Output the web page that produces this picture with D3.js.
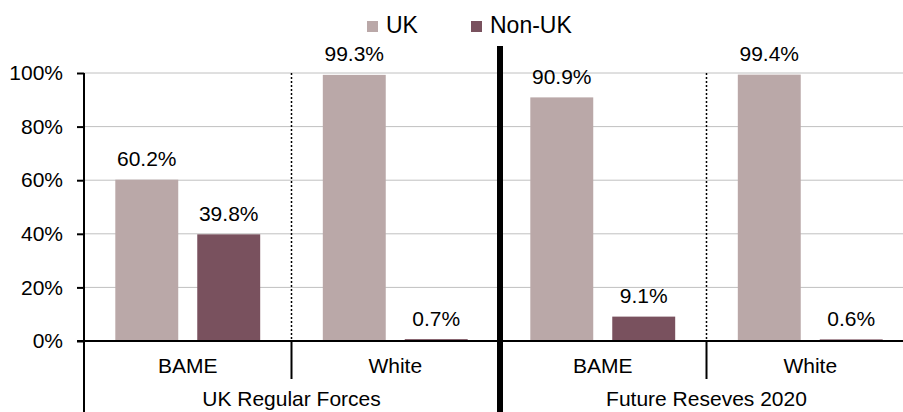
<!DOCTYPE html>
<html>
<head>
<meta charset="utf-8">
<script src="https://cdn.jsdelivr.net/npm/d3@7"></script>
<style>
  body { margin: 0; background: #fff; }
  svg { display: block; font-family: "Liberation Sans", Arial, sans-serif; }
</style>
</head>
<body>
<div id="result"></div>
<script>
const groups = ['UK Regular Forces', 'Future Reseves 2020'];
const ethnicities = ['BAME', 'White'];
const series = ['UK', 'Non-UK'];
const ukValues = [60.2, 99.3, 90.9, 99.4];
const nonUkValues = [39.8, 0.7, 9.1, 0.6];
const yTicks = [0, 20, 40, 60, 80, 100];
const colors = ['#baa8a8', '#79515e'];

const width = 903, height = 412;
const margin = { top: 73, left: 84, bottom: 71 };
const plotRight = 914; // last category runs a little past the edge

// one row per category, built from the arrays above
const cats = [];
groups.forEach(function(g, gi) {
  ethnicities.forEach(function(e, ei) {
    const i = gi * ethnicities.length + ei;
    cats.push({ key: g + '|' + e, group: g, eth: e, values: [ukValues[i], nonUkValues[i]] });
  });
});

const svg = d3.select('#result').append('svg')
  .attr('width', width)
  .attr('height', height);

const x0 = d3.scaleBand().domain(cats.map(d => d.key)).range([margin.left, plotRight]).padding(0);
const x1 = d3.scaleBand().domain(series).range([0, x0.bandwidth()]).paddingInner(0.232).paddingOuter(0.382);
const y = d3.scaleLinear().domain([0, 100]).range([height - margin.bottom, margin.top]);

// gridlines
svg.append('g').selectAll('line')
  .data(yTicks.filter(t => t > 0))
  .enter().append('line')
  .attr('x1', margin.left).attr('x2', width)
  .attr('y1', d => y(d)).attr('y2', d => y(d))
  .attr('stroke', '#c0c0c0').attr('stroke-width', 1);

// dotted separators between ethnicities
const dotted = [cats[1].key, cats[3].key];
svg.append('g').selectAll('line')
  .data(dotted)
  .enter().append('line')
  .attr('x1', d => x0(d)).attr('x2', d => x0(d))
  .attr('y1', y(100)).attr('y2', y(0))
  .attr('stroke', '#000').attr('stroke-width', 1.5)
  .attr('stroke-dasharray', '2,2');

// bars
const catG = svg.append('g').selectAll('g')
  .data(cats)
  .enter().append('g')
  .attr('transform', d => `translate(${x0(d.key)},0)`);

catG.selectAll('rect')
  .data(d => d.values.map((v, i) => ({ s: series[i], v: v, i: i })))
  .enter().append('rect')
  .attr('x', d => x1(d.s))
  .attr('width', x1.bandwidth())
  .attr('y', d => y(d.v))
  .attr('height', d => y(0) - y(d.v))
  .attr('fill', d => colors[d.i]);

catG.selectAll('text')
  .data(d => d.values.map((v, i) => ({ s: series[i], v: v })))
  .enter().append('text')
  .attr('x', d => x1(d.s) + x1.bandwidth() / 2)
  .attr('y', d => y(d.v) - 13.5)
  .attr('text-anchor', 'middle')
  .attr('font-size', 21)
  .attr('fill', '#000')
  .text(d => d.v.toFixed(1) + '%');

// y axis
const yAxis = svg.append('g')
  .attr('transform', `translate(${margin.left},0)`)
  .call(d3.axisLeft(y).tickValues(yTicks).tickSize(7).tickPadding(14).tickFormat(d => d + '%'));
yAxis.select('.domain').remove();
yAxis.selectAll('.tick line').attr('stroke', '#000').attr('stroke-width', 2);
yAxis.selectAll('.tick text').attr('font-size', 21).attr('fill', '#000')
  .attr('font-family', '"Liberation Sans", Arial, sans-serif');

svg.append('line')
  .attr('x1', margin.left).attr('x2', margin.left)
  .attr('y1', y(100)).attr('y2', height)
  .attr('stroke', '#000').attr('stroke-width', 2);

// x axis line
svg.append('line')
  .attr('x1', margin.left - 7).attr('x2', width)
  .attr('y1', y(0)).attr('y2', y(0))
  .attr('stroke', '#000').attr('stroke-width', 2);

// category labels
const xAxis = svg.append('g')
  .attr('transform', `translate(0,${y(0)})`)
  .call(d3.axisBottom(x0).tickSize(0).tickPadding(17).tickFormat(k => k.split('|')[1]));
xAxis.select('.domain').remove();
xAxis.selectAll('.tick text').attr('font-size', 21).attr('fill', '#000')
  .attr('font-family', '"Liberation Sans", Arial, sans-serif');

// short dividers under the axis between ethnicities
svg.append('g').selectAll('line')
  .data(dotted)
  .enter().append('line')
  .attr('x1', d => x0(d)).attr('x2', d => x0(d))
  .attr('y1', y(0)).attr('y2', y(0) + 38)
  .attr('stroke', '#000').attr('stroke-width', 2);

// group labels (sit right at the bottom edge, kept just inside)
svg.append('g').selectAll('text')
  .data(groups)
  .enter().append('text')
  .attr('x', (g, gi) => {
    const a = x0(cats[gi * 2].key), b = x0(cats[gi * 2 + 1].key) + x0.bandwidth();
    return (a + Math.min(b, plotRight)) / 2;
  })
  .attr('y', 406)
  .attr('text-anchor', 'middle')
  .attr('font-size', 21)
  .text(d => d);

// thick separator between groups
svg.append('line')
  .attr('x1', x0(cats[2].key) + 1).attr('x2', x0(cats[2].key) + 1)
  .attr('y1', 46).attr('y2', height)
  .attr('stroke', '#000').attr('stroke-width', 6);

// legend
const legend = svg.append('g').selectAll('g')
  .data(series)
  .enter().append('g')
  .attr('transform', (d, i) => `translate(${i === 0 ? 367 : 471},21)`);
legend.append('rect')
  .attr('width', 11).attr('height', 11)
  .attr('fill', (d, i) => colors[i]);
legend.append('text')
  .attr('x', 19).attr('y', 12)
  .attr('font-size', 23)
  .text(d => d);
</script>
</body>
</html>
